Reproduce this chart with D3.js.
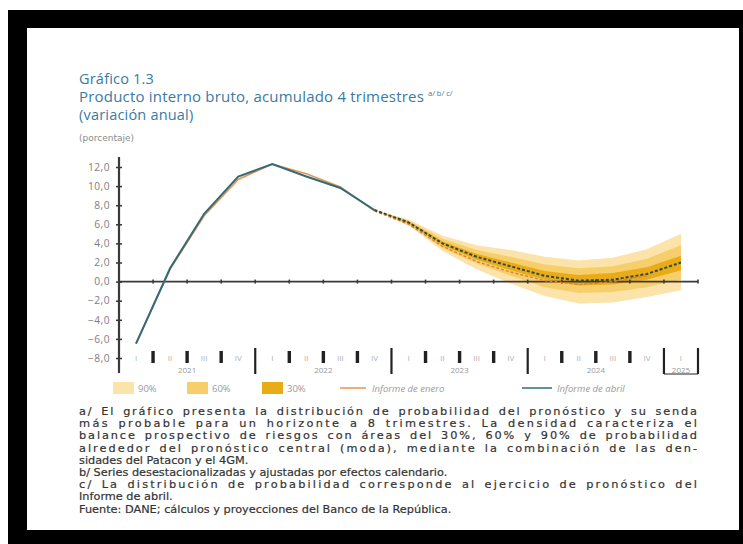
<!DOCTYPE html>
<html><head><meta charset="utf-8">
<script src="https://cdn.jsdelivr.net/npm/d3@7"></script>
<style>body{margin:0;background:#fff}svg{display:block}</style>
</head><body>
<svg id="c" width="743" height="544"></svg>
<script>
// ---------- DATA ----------
const quarters = ["2021Q1","2021Q2","2021Q3","2021Q4","2022Q1","2022Q2","2022Q3","2022Q4",
  "2023Q1","2023Q2","2023Q3","2023Q4","2024Q1","2024Q2","2024Q3","2024Q4","2025Q1"];
const quarterLabels = ["I","II","III","IV","I","II","III","IV","I","II","III","IV","I","II","III","IV","I"];
const years = ["2021","2022","2023","2024","2025"];
const yTicks = [-8,-6,-4,-2,0,2,4,6,8,10,12];

// Informe de abril (observed)
const abrilHist = [-6.5, 1.4, 7.1, 11.0, 12.3, 11.0, 9.8, 7.5];
// Informe de enero (observed + forecast)
const eneroHist = [-6.5, 1.3, 6.9, 10.7, 12.3, 11.3, 9.9, 7.4];
const eneroFcstQ = ["2022Q4","2023Q1","2023Q2","2023Q3","2023Q4","2024Q1","2024Q2","2024Q3","2024Q4"];
const eneroFcst = [7.4, 6.0, 3.7, 2.1, 1.0, 0.1, -0.3, 0.0, 0.6];
// Forecast fan (Informe de abril)
const fanQ = ["2022Q4","2023Q1","2023Q2","2023Q3","2023Q4","2024Q1","2024Q2","2024Q3","2024Q4","2025Q1"];
const mode   = [7.5, 6.2, 4.0, 2.6, 1.6, 0.6, 0.1, 0.2, 0.8, 2.0];
const up90   = [7.5, 6.5, 4.8, 3.8, 3.3, 2.6, 2.2, 2.5, 3.4, 5.0];
const lo90   = [7.5, 5.9, 3.2, 1.3,-0.2,-1.5,-2.3,-2.2,-1.6,-0.9];
const up60   = [7.5, 6.4, 4.5, 3.3, 2.6, 1.8, 1.4, 1.6, 2.4, 3.8];
const lo60   = [7.5, 6.0, 3.5, 1.9, 0.6,-0.6,-1.2,-1.1,-0.6, 0.2];
const up30   = [7.5, 6.3, 4.2, 2.9, 2.0, 1.1, 0.7, 0.9, 1.5, 2.7];
const lo30   = [7.5, 6.1, 3.8, 2.3, 1.2, 0.2,-0.4,-0.3, 0.2, 1.2];

const titleLines = ["Gráfico 1.3","Producto interno bruto, acumulado 4 trimestres","(variación anual)"];
const notes = [
 "a/ El gráfico presenta la distribución de probabilidad del pronóstico y su senda",
 "más probable para un horizonte a 8 trimestres. La densidad caracteriza el",
 "balance prospectivo de riesgos con áreas del 30%, 60% y 90% de probabilidad",
 "alrededor del pronóstico central (moda), mediante la combinación de las den-",
 "sidades del Patacon y el 4GM.",
 "b/ Series desestacionalizadas y ajustadas por efectos calendario.",
 "c/ La distribución de probabilidad corresponde al ejercicio de pronóstico del",
 "Informe de abril.",
 "Fuente: DANE; cálculos y proyecciones del Banco de la República."
];
const justified = [true,true,true,true,false,false,true,false,false];

// ---------- DRAW ----------
const svg = d3.select("#c");
const font = "'Open Sans', 'Noto Sans', sans-serif";
const wide = "'DejaVu Sans', Verdana, sans-serif";

// frame
svg.append("rect").attr("x",0).attr("y",0).attr("width",743).attr("height",544).attr("fill","#fff");
svg.append("rect").attr("x",8).attr("y",10).attr("width",735).attr("height",534).attr("fill","#000");
svg.append("rect").attr("x",27).attr("y",28).attr("width",712).attr("height",502).attr("fill","#fff");

// titles
const titleColor = "#3a7aa3";
const tY = [84, 102, 120];
titleLines.forEach((t,i)=>{
  const tt = svg.append("text").attr("x",79).attr("y",tY[i]).attr("font-family",font)
    .attr("font-size",14.5).attr("fill",titleColor).attr("font-weight",500).attr("letter-spacing",0.2).text(t);
  if (i===1) tt.attr("textLength",345).attr("lengthAdjust","spacingAndGlyphs");
});
svg.append("text").attr("x",428).attr("y",96).attr("font-family",font)
  .attr("font-size",7.5).attr("fill",titleColor).text("a/ b/ c/");
svg.append("text").attr("x",79).attr("y",141).attr("font-family",wide)
  .attr("font-size",9).attr("fill","#8a8a8a").text("(porcentaje)");

// scales
const x = d3.scaleBand().domain(quarters).range([119, 698]).padding(0);
const cx = q => x(q) + x.bandwidth()/2;
const y = d3.scaleLinear().domain([-8, 12]).range([358, 167]);

// fan
const area = (lo, up) => d3.area().x((d,i)=>cx(fanQ[i])).y0((d,i)=>y(lo[i])).y1((d,i)=>y(up[i]));
const g = svg.append("g");
g.append("path").datum(fanQ).attr("d", area(lo90, up90)).attr("fill","#fbe3a9");
g.append("path").datum(fanQ).attr("d", area(lo60, up60)).attr("fill","#f6cf6c");
g.append("path").datum(fanQ).attr("d", area(lo30, up30)).attr("fill","#e9ab18");

// zero line
const x0 = x.range()[0], x1 = x.range()[1];
svg.append("line").attr("x1",x0).attr("x2",x1).attr("y1",y(0)).attr("y2",y(0))
  .attr("stroke","#3a3a3a").attr("stroke-width",1.6);
quarters.slice(1).concat(["end"]).forEach((q,i)=>{
  const xx = q==="end" ? x1 : x(q);
  svg.append("line").attr("x1",xx).attr("x2",xx).attr("y1",y(0)-2).attr("y2",y(0)+2)
    .attr("stroke","#3a3a3a").attr("stroke-width",1.6);
});

// lines
const line = d3.line().x(d=>cx(d.q)).y(d=>y(d.v));
const eneroH = eneroHist.map((v,i)=>({q:quarters[i],v}));
const eneroF = eneroFcst.map((v,i)=>({q:eneroFcstQ[i],v}));
const abrilH = abrilHist.map((v,i)=>({q:quarters[i],v}));
const modeF  = mode.map((v,i)=>({q:fanQ[i],v}));
svg.append("path").datum(eneroH).attr("d",line).attr("fill","none").attr("stroke","#e89550").attr("stroke-width",1.6);
svg.append("path").datum(eneroF).attr("d",line).attr("fill","none").attr("stroke","#e0803a").attr("stroke-width",1.4).attr("stroke-dasharray","3,2");
svg.append("path").datum(abrilH).attr("d",line).attr("fill","none").attr("stroke","#2f6b78").attr("stroke-width",2);
svg.append("path").datum(modeF).attr("d",line).attr("fill","none").attr("stroke","#2d4a48").attr("stroke-width",2).attr("stroke-dasharray","3,2");

// y axis
const yAxis = d3.axisLeft(y).tickValues(yTicks).tickSize(0).tickPadding(9)
  .tickFormat(d => d3.format(".1f")(d).replace(".",",").replace("-","−"));
const ya = svg.append("g").attr("transform",`translate(${x0},0)`).call(yAxis);
ya.select(".domain").remove();
ya.selectAll("text").attr("font-family",font).attr("font-size",10.2).attr("fill","#7e7e7e").attr("letter-spacing",0.5);
ya.selectAll(".tick").append("line").attr("x1",-3).attr("x2",3).attr("stroke","#333").attr("stroke-width",1.5);
svg.append("line").attr("x1",x0).attr("x2",x0).attr("y1",157).attr("y2",373)
  .attr("stroke","#3a3a3a").attr("stroke-width",2.2);

// x category row
const rowY = 361;
quarters.forEach((q,i)=>{
  svg.append("text").attr("x",cx(q)).attr("y",rowY).attr("text-anchor","middle")
    .attr("font-family",font).attr("font-size",8).attr("fill","#b0b0b0").text(quarterLabels[i]);
  if (i>0) {
    const xx = x(q);
    if (quarterLabels[i]==="I") {
      svg.append("line").attr("x1",xx).attr("x2",xx).attr("y1",348).attr("y2",374)
        .attr("stroke","#222").attr("stroke-width",2.2);
    } else {
      svg.append("rect").attr("x",xx-1.7).attr("y",351).attr("width",3.4).attr("height",12).attr("fill","#222");
    }
  }
});
svg.append("line").attr("x1",x1).attr("x2",x1).attr("y1",348).attr("y2",374).attr("stroke","#222").attr("stroke-width",2.2);
svg.append("line").attr("x1",x(quarters[16])).attr("x2",x1).attr("y1",374).attr("y2",374).attr("stroke","#222").attr("stroke-width",1.2);
years.forEach((yr,i)=>{
  const qs = quarters.filter(q=>q.startsWith(yr));
  const a = x(qs[0]), b = x(qs[qs.length-1]) + x.bandwidth();
  svg.append("text").attr("x",(a+b)/2).attr("y",373).attr("text-anchor","middle")
    .attr("font-family",font).attr("font-size",8).attr("fill","#9a9a9a").text(yr);
});

// legend
const leg = svg.append("g").attr("font-family",font).attr("font-size",9.5).attr("fill","#9a9a9a");
const legY = 388;
[["90%","#fbe3a9",113],["60%","#f6cf6c",187],["30%","#e9ab18",262]].forEach(([t,c,lx])=>{
  leg.append("rect").attr("x",lx).attr("y",legY-6).attr("width",21).attr("height",12).attr("fill",c);
  leg.append("text").attr("x",lx+25).attr("y",legY+3.5).text(t);
});
leg.append("line").attr("x1",340).attr("x2",366).attr("y1",legY).attr("y2",legY).attr("stroke","#e89550").attr("stroke-width",1.5);
leg.append("text").attr("x",372).attr("y",legY+3.5).attr("font-style","italic").text("Informe de enero");
leg.append("line").attr("x1",522).attr("x2",552).attr("y1",legY).attr("y2",legY).attr("stroke","#2f6b78").attr("stroke-width",1.5);
leg.append("text").attr("x",557).attr("y",legY+3.5).attr("font-style","italic").text("Informe de abril");

// notes (justified: word spacing first, then letter spacing)
notes.forEach((t,i)=>{
  const tx = svg.append("text").attr("x",79).attr("y",415 + i*12.2).attr("font-family",wide)
    .attr("font-size",11.3).attr("fill","#333").attr("stroke","#333").attr("stroke-width",0.2).text(t);
  if (justified[i]) {
    const w = tx.node().getComputedTextLength();
    const spaces = (t.match(/ /g) || []).length;
    let extra = 618 - w;
    const ws = Math.min(extra / spaces, 2.5);
    extra -= ws * spaces;
    const ls = extra / (t.length - 1);
    tx.attr("word-spacing", ws).attr("letter-spacing", ls);
  }
});
</script>
</body></html>
